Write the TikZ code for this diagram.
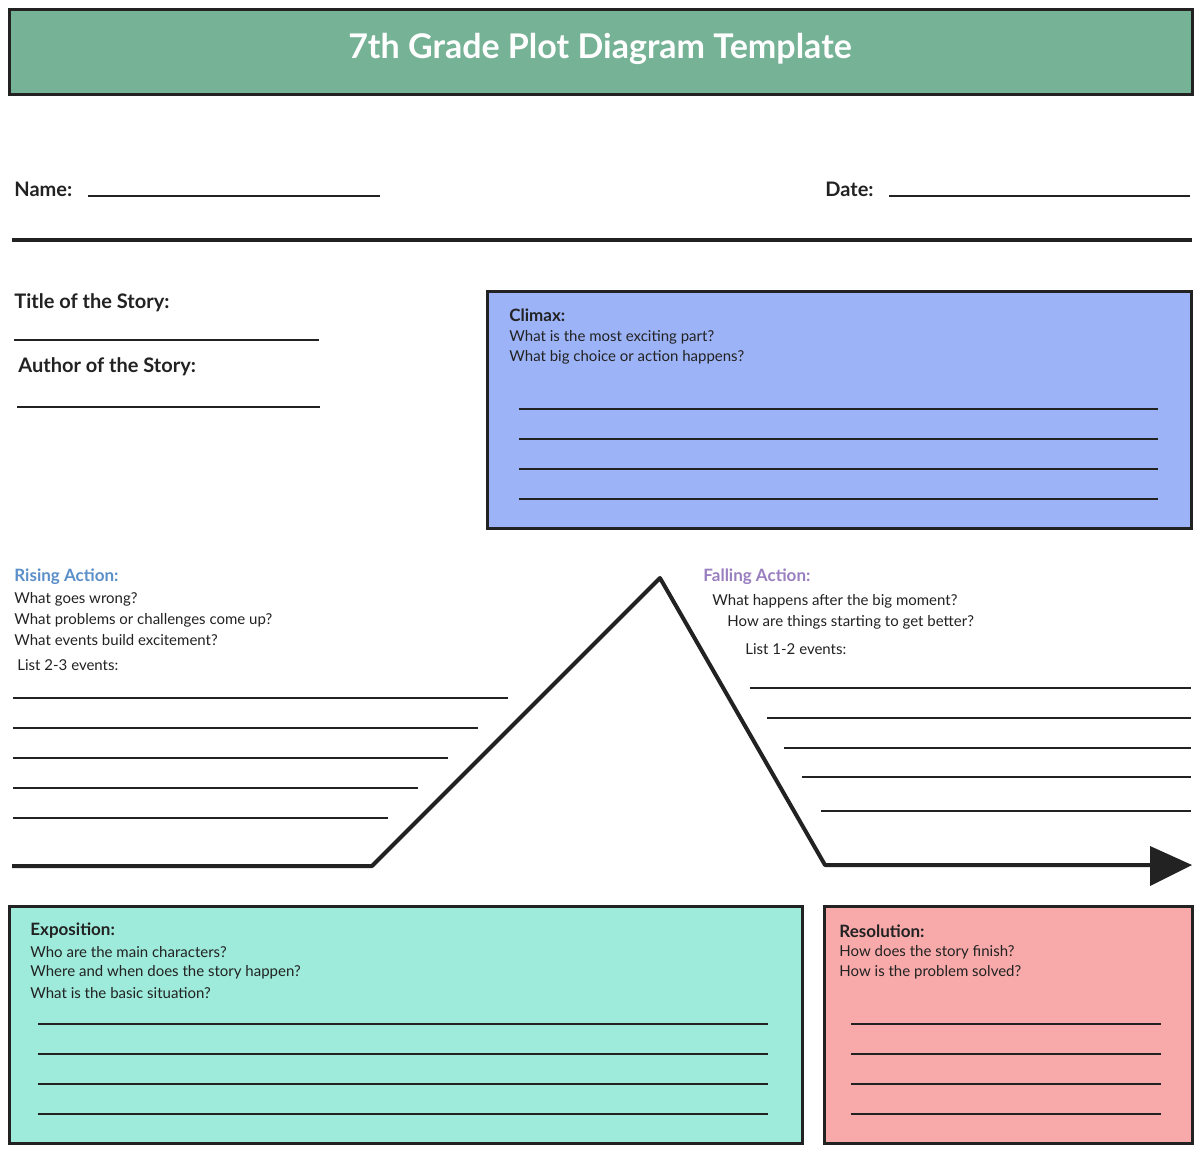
\documentclass[tikz,border=0pt]{standalone}
\usepackage{fontspec}
\setmainfont{Lato}
\definecolor{tgreen}{HTML}{76B295}
\definecolor{climax}{HTML}{9DB3F7}
\definecolor{expo}{HTML}{9EEBDB}
\definecolor{reso}{HTML}{F8AAAA}
\definecolor{rising}{HTML}{5B8FC9}
\definecolor{falling}{HTML}{9A7FC0}
\definecolor{ink}{HTML}{222222}
\begin{document}
\begin{tikzpicture}[x=0.5pt,y=-0.5pt,
  box/.style={draw=ink,line width=1.5pt},
  wl/.style={draw=ink,line width=0.6pt},
  lbl/.style={anchor=west,inner sep=0pt,font=\fontsize{10}{12}\selectfont\bfseries,text=ink},
  hd/.style={anchor=west,inner sep=0pt,font=\fontsize{8.5}{10}\selectfont\bfseries,text=ink},
  q/.style={anchor=west,inner sep=0pt,font=\fontsize{7.5}{9}\selectfont,text=ink}]
\useasboundingbox (0,0) rectangle (1200,1152);
\fill[white] (0,0) rectangle (1200,1152);
% title
\draw[box,fill=tgreen] (9,9) rectangle (1192,94);
\node[font=\fontsize{17}{20}\selectfont\bfseries,text=white] (title) at (600,49) {7th Grade Plot Diagram Template};
% name/date
\node[lbl] (name) at (14,189) {Name:};
\draw[wl] (88,196) -- (380,196);
\node[lbl] (date) at (825,189) {Date:};
\draw[wl] (889,196) -- (1190,196);
\draw[ink,line width=2pt] (12,240) -- (1192,240);
\node[lbl] (tos) at (14,303) {Title of the Story:};
\draw[wl] (14,340) -- (319,340);
\node[lbl] (aos) at (18,367) {Author of the Story:};
\draw[wl] (17,407) -- (320,407);
% climax
\draw[box,fill=climax] (487,291) rectangle (1191,528);
\node[hd] (cl) at (509,315) {Climax:};
\node[q] (cl1) at (509,337) {What is the most exciting part?};
\node[q] (cl2) at (509,357) {What big choice or action happens?};
\foreach \y in {409,439,469,499} \draw[wl] (519,\y) -- (1158,\y);
% rising
\node[hd,text=rising] (ra) at (14,577) {Rising Action:};
\node[q] (ra1) at (14,599) {What goes wrong?};
\node[q] (ra2) at (14,620) {What problems or challenges come up?};
\node[q] (ra3) at (14,640) {What events build excitement?};
\node[q] (ra4) at (17,665) {List 2-3 events:};
\draw[wl] (13,698) -- (508,698);
\draw[wl] (13,728) -- (478,728);
\draw[wl] (13,758) -- (448,758);
\draw[wl] (13,788) -- (418,788);
\draw[wl] (13,818) -- (388,818);
% falling
\node[hd,text=falling] (fa) at (703,577) {Falling Action:};
\node[q] (fa1) at (712,601) {What happens after the big moment?};
\node[q] (fa2) at (727,622) {How are things starting to get better?};
\node[q] (fa3) at (745,649) {List 1-2 events:};
\draw[wl] (750,688) -- (1191,688);
\draw[wl] (767,718) -- (1191,718);
\draw[wl] (784,748) -- (1191,748);
\draw[wl] (802,777) -- (1191,777);
\draw[wl] (821,811) -- (1191,811);
% plot line
\coordinate (p0) at (12,866);
\coordinate (p1) at (372,866);
\coordinate (p2) at (660,578);
\coordinate (p3) at (825,865);
\coordinate (p4) at (1152,865);
\draw[ink,line width=2pt,line join=round] (p0) -- (p1) -- (p2) -- (p3) -- (p4);
\fill[ink] (1150,846) -- (1192,865) -- (1150,886) -- cycle;
% exposition
\draw[box,fill=expo] (9,906) rectangle (802,1143);
\node[hd] (ex) at (30,931) {Exposition:};
\node[q] (ex1) at (30,952) {Who are the main characters?};
\node[q] (ex2) at (30,972) {Where and when does the story happen?};
\node[q] (ex3) at (30,993) {What is the basic situation?};
\foreach \y in {1024,1054,1084,1114} \draw[wl] (38,\y) -- (768,\y);
% resolution
\draw[box,fill=reso] (824,906) rectangle (1192,1143);
\node[hd] (re) at (839,931) {Resolution:};
\node[q] (re1) at (839,952) {How does the story finish?};
\node[q] (re2) at (839,972) {How is the problem solved?};
\foreach \y in {1024,1054,1084,1114} \draw[wl] (851,\y) -- (1161,\y);
\end{tikzpicture}
\end{document}
